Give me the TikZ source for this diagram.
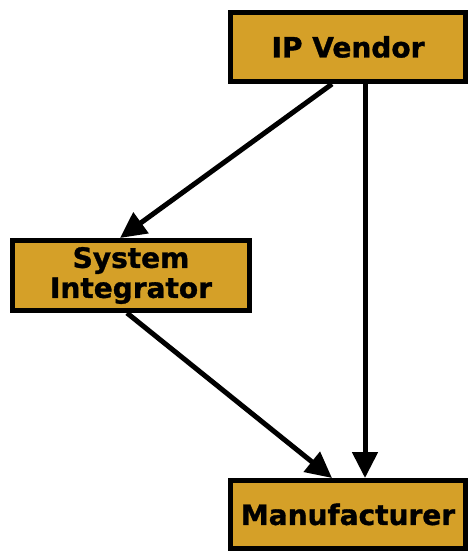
\documentclass[tikz,border=0pt]{standalone}
\usepackage{fontspec}
\setmainfont{DejaVu Sans}
\newfontfamily\boxfont{DejaVu Sans Bold}[FakeBold=1.2]
\usepackage{xcolor}
\usetikzlibrary{positioning, arrows.meta}

\definecolor{boxgold}{RGB}{213,160,40}

\begin{document}
\begin{tikzpicture}[
  x=1pt, y=-1pt,
  font=\boxfont\fontsize{28}{30}\selectfont,
  >={Triangle[length=26pt, width=25pt]},
  box/.style={
    draw, line width=5pt, fill=boxgold, align=center,
    inner sep=2pt, minimum width=235pt, minimum height=69pt
  },
  link/.style={->, line width=5pt}
]
\useasboundingbox (0,0) rectangle (470,553);

\node[box] (vendor) at (348,47) {IP Vendor};
\node[box, minimum width=237pt, minimum height=70pt] (integrator) at (131,275.5) {System\\Integrator};
\node[box, minimum height=68pt] (maker) at (348,514.5) {Manufacturer};

\draw[link] ([xshift=-16pt]vendor.south) -- ([xshift=-11pt]integrator.north);
\draw[link] ([xshift=17pt]vendor.south) -- ([xshift=17pt]maker.north);
\draw[link] ([xshift=-4pt]integrator.south) -- ([xshift=-16pt]maker.north);

\end{tikzpicture}
\end{document}
